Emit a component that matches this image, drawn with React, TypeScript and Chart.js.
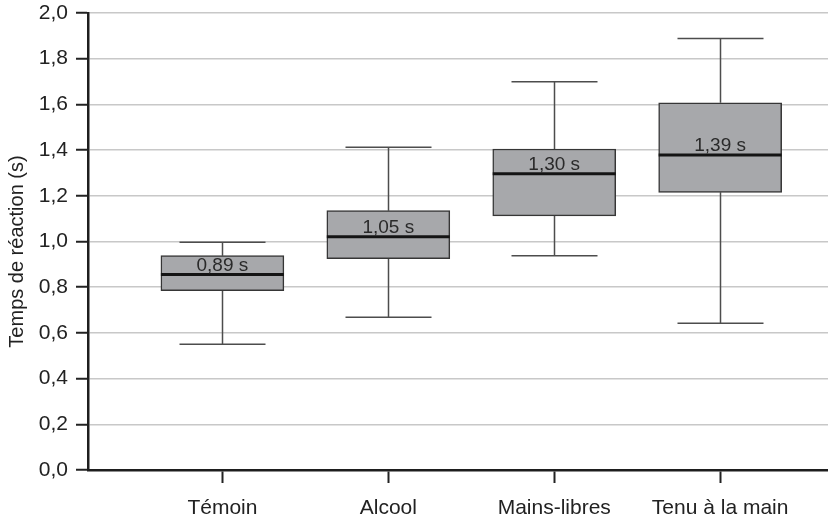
import React, { useEffect, useRef } from "react";
import { Chart, registerables } from "chart.js";

Chart.register(...registerables);

// ---- data ----
const categories = ["Témoin", "Alcool", "Mains-libres", "Tenu à la main"];
const positions = [1, 2, 3, 4];
const whiskerLow = [0.55, 0.668, 0.938, 0.642];
const quartile1 = [0.785, 0.925, 1.112, 1.215];
const medians = [0.856, 1.021, 1.297, 1.379];
const quartile3 = [0.938, 1.135, 1.405, 1.607];
const whiskerHigh = [0.997, 1.412, 1.699, 1.888];
const boxLabels = ["0,89 s", "1,05 s", "1,30 s", "1,39 s"];
const yTickValues = [0, 0.2, 0.4, 0.6, 0.8, 1.0, 1.2, 1.4, 1.6, 1.8, 2.0];
const yTitle = "Temps de réaction (s)";

const FONT = '"Liberation Sans", Arial, Helvetica, sans-serif';
const CAP_WIDTH = 86;

const boxPlugin = {
  id: "boxExtras",
  beforeDatasetsDraw(chart: any) {
    const { ctx } = chart;
    const x = chart.scales.x;
    const y = chart.scales.y;
    ctx.save();
    ctx.strokeStyle = "#4d4d4d";
    ctx.lineWidth = 1.5;
    positions.forEach((p, i) => {
      const cx = Math.round(x.getPixelForValue(p)) + 0.5;
      const yLo = y.getPixelForValue(whiskerLow[i]);
      const yHi = y.getPixelForValue(whiskerHigh[i]);
      const yQ1 = y.getPixelForValue(quartile1[i]);
      const yQ3 = y.getPixelForValue(quartile3[i]);
      ctx.beginPath();
      ctx.moveTo(cx, yQ3);
      ctx.lineTo(cx, yHi);
      ctx.moveTo(cx, yQ1);
      ctx.lineTo(cx, yLo);
      ctx.moveTo(cx - CAP_WIDTH / 2, yHi);
      ctx.lineTo(cx + CAP_WIDTH / 2, yHi);
      ctx.moveTo(cx - CAP_WIDTH / 2, yLo);
      ctx.lineTo(cx + CAP_WIDTH / 2, yLo);
      ctx.stroke();
    });
    ctx.restore();
  },
  afterDatasetsDraw(chart: any) {
    const { ctx } = chart;
    const y = chart.scales.y;
    const meta = chart.getDatasetMeta(0);
    ctx.save();
    meta.data.forEach((el: any, i: number) => {
      const ym = y.getPixelForValue(medians[i]);
      const half = el.width / 2;
      ctx.strokeStyle = "#141414";
      ctx.lineWidth = 3;
      ctx.beginPath();
      ctx.moveTo(el.x - half, ym);
      ctx.lineTo(el.x + half, ym);
      ctx.stroke();
      ctx.fillStyle = "#2a2a2a";
      ctx.font = `19px ${FONT}`;
      ctx.textAlign = "center";
      ctx.textBaseline = "alphabetic";
      ctx.fillText(boxLabels[i], el.x, ym - 3.5);
    });
    ctx.restore();
  },
  afterDraw(chart: any) {
    const { ctx, chartArea } = chart;
    ctx.save();
    ctx.translate(17, (chartArea.top + chartArea.bottom) / 2 + 10);
    ctx.rotate(-Math.PI / 2);
    ctx.fillStyle = "#222";
    ctx.font = `20px ${FONT}`;
    ctx.textAlign = "center";
    ctx.textBaseline = "middle";
    ctx.fillText(yTitle, 0, 0);
    ctx.restore();
  },
};

export default function App() {
  const canvasRef = useRef<HTMLCanvasElement | null>(null);

  useEffect(() => {
    document.body.style.margin = "0";
    const canvas = canvasRef.current;
    if (!canvas) return;
    const chart = new Chart(canvas, {
      type: "bar",
      data: {
        datasets: [
          {
            data: positions.map((p, i) => ({ x: p, y: [quartile1[i], quartile3[i]] })) as any,
            backgroundColor: "#a7a8ab",
            borderColor: "#363636",
            borderWidth: 1.5,
            borderSkipped: false,
            barThickness: 123,
          },
        ],
      },
      options: {
        animation: false,
        responsive: true,
        maintainAspectRatio: false,
        layout: { padding: { top: 0, right: 0, left: 0, bottom: 0 } },
        plugins: {
          legend: { display: false },
          tooltip: { enabled: false },
        },
        scales: {
          x: {
            type: "linear",
            offset: false,
            min: 0.19,
            max: 4.65,
            afterBuildTicks: (scale: any) => {
              scale.ticks = positions.map((v) => ({ value: v }));
            },
            afterFit: (scale: any) => {
              scale.height = 48;
              scale.paddingLeft = 0;
              scale.paddingRight = 0;
            },
            ticks: {
              callback: (v: any) => {
                const idx = positions.indexOf(Number(v));
                return idx >= 0 ? categories[idx] : "";
              },
              color: "#222",
              font: { family: FONT, size: 21 },
              padding: 13,
              maxRotation: 0,
              autoSkip: false,
            },
            grid: {
              display: true,
              offset: false,
              drawOnChartArea: false,
              drawTicks: true,
              tickLength: 13,
              tickColor: "#222",
              tickWidth: 2,
            },
            border: { display: true, color: "#1e1e1e", width: 2.5 },
          },
          y: {
            type: "linear",
            min: 0,
            max: 2,
            afterBuildTicks: (scale: any) => {
              scale.ticks = yTickValues.map((v) => ({ value: v }));
            },
            afterFit: (scale: any) => {
              scale.width = 88;
              scale.paddingTop = 13;
              scale.paddingBottom = 0;
            },
            ticks: {
              callback: (v: any) => Number(v).toFixed(1).replace(".", ","),
              color: "#222",
              font: { family: FONT, size: 21 },
              padding: 8,
            },
            grid: {
              color: "#c8c8c8",
              lineWidth: 1.5,
              drawTicks: true,
              tickLength: 12,
              tickColor: "#222",
              tickWidth: 2,
            },
            border: { display: true, color: "#1e1e1e", width: 2.5 },
          },
        },
      },
      plugins: [boxPlugin],
    });
    return () => chart.destroy();
  }, []);

  return (
    <div style={{ width: 828, height: 518, position: "relative" }}>
      <canvas ref={canvasRef} />
    </div>
  );
}
